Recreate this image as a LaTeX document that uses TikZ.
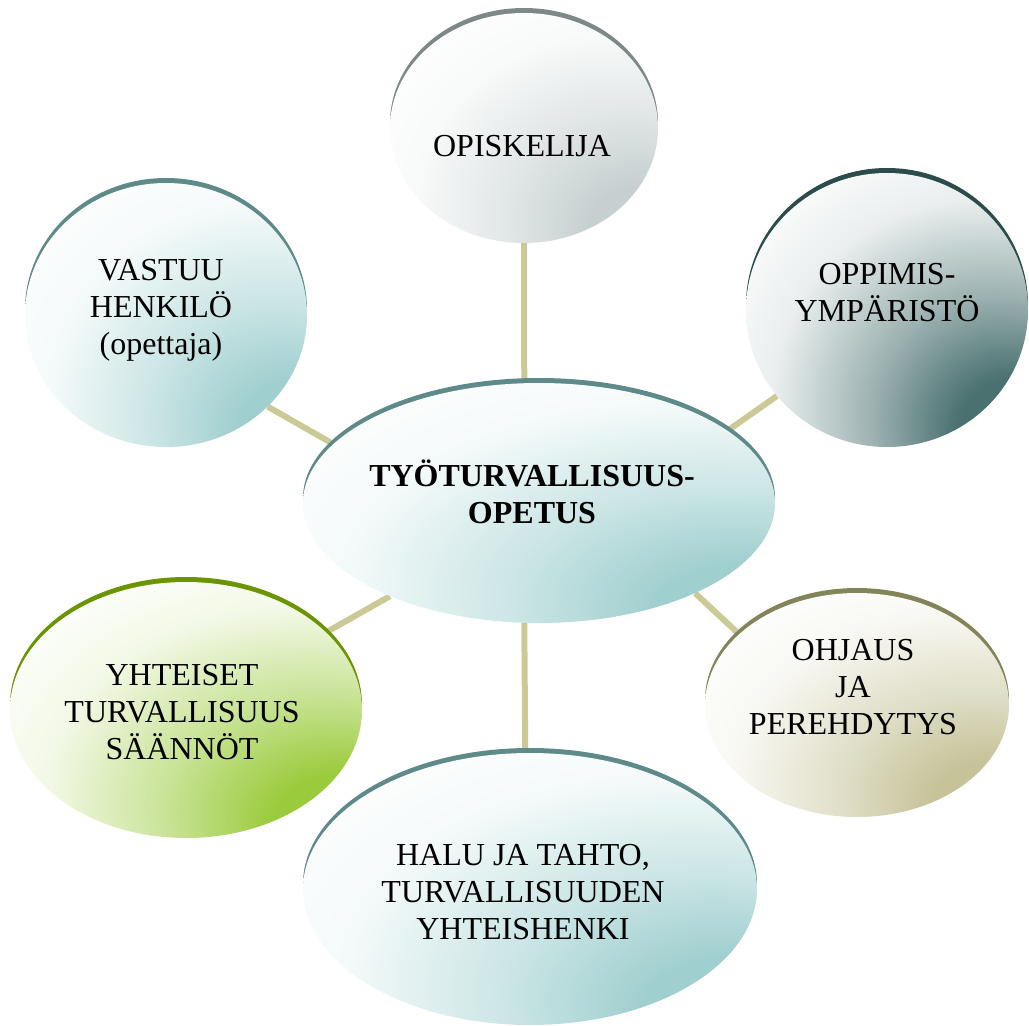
\documentclass[tikz,border=0pt]{standalone}
\usepackage{fontspec}
\setmainfont{Liberation Serif}
\usetikzlibrary{shapes.geometric,backgrounds}
\definecolor{spokecol}{HTML}{CBCA97}
\definecolor{rimgray}{HTML}{7F8888}
\definecolor{fillgray}{HTML}{C6D0D0}
\definecolor{rimteal}{HTML}{5E8A8A}
\definecolor{fillteal}{HTML}{A0CFCF}
\definecolor{rimdark}{HTML}{2C4C4C}
\definecolor{filldark}{HTML}{4A7070}
\definecolor{rimgreen}{HTML}{6A9400}
\definecolor{fillgreen}{HTML}{9ACB3C}
\definecolor{rimkhaki}{HTML}{84845A}
\definecolor{fillkhaki}{HTML}{C6C399}
\colorlet{bubcol}{fillteal}
\pgfdeclareradialshading[bubcol]{bubble}{\pgfpoint{25bp}{-25bp}}{color(0bp)=(bubcol); color(10bp)=(bubcol); color(22bp)=(bubcol!55!white); color(36bp)=(bubcol!12!white); color(48bp)=(white); color(100bp)=(white)}

\begin{document}
\begin{tikzpicture}[x=1pt,y=-1pt,
  bubble/.style n args={4}{ellipse, minimum width=#1, minimum height=#2, inner sep=0pt,
    preaction={fill=#3, transform canvas={yshift=5pt}},
    /utils/exec={\colorlet{bubcol}{#4}}, shading=bubble},
  btext/.style={align=center, font=\fontsize{32}{37}\selectfont},
  spoke/.style={draw=spokecol, line width=6pt}]
\useasboundingbox (0,0) rectangle (1029,1026);
% the circles
\node[bubble={268pt}{230pt}{rimgray}{fillgray}] (opiskelija) at (524,128) {};
\node[bubble={282pt}{264pt}{rimteal}{fillteal}] (vastuu) at (166,315) {};
\node[bubble={282pt}{274pt}{rimdark}{filldark}] (ymparisto) at (887,310) {};
\node[bubble={472pt}{240pt}{rimteal}{fillteal}] (opetus) at (539,503) {};
\node[bubble={352pt}{256pt}{rimgreen}{fillgreen}] (saannot) at (186,710) {};
\node[bubble={304pt}{224pt}{rimkhaki}{fillkhaki}] (ohjaus) at (857,705) {};
\node[bubble={454pt}{272pt}{rimteal}{fillteal}] (yhteishenki) at (530,889) {};
% the texts
\node[btext] (opiskelija-t) at (522,146) {OPISKELIJA};
\node[btext] (vastuu-t) at (161,310) {VASTUU\\HENKILÖ\\(opettaja)};
\node[btext] (ymparisto-t) at (887,293) {OPPIMIS-\\YMPÄRISTÖ};
\node[btext,font=\fontsize{32}{37}\selectfont\bfseries] (opetus-t) at (532,492) {TYÖTURVALLISUUS-\\OPETUS};
\node[btext] (saannot-t) at (182,712) {YHTEISET\\TURVALLISUUS\\SÄÄNNÖT};
\node[btext] (ohjaus-t) at (853,687) {OHJAUS\\JA\\PEREHDYTYS};
\node[btext] (yhteishenki-t) at (523,892) {HALU JA TAHTO,\\TURVALLISUUDEN\\YHTEISHENKI};
% spokes behind
\begin{scope}[on background layer]
\draw[spoke] (opiskelija.-90) -- (opetus.97);
\draw[spoke] (vastuu.-42) -- (opetus.164);
\draw[spoke] (ymparisto.218) -- (opetus.21);
\draw[spoke] (saannot.29) -- (opetus.212);
\draw[spoke] (ohjaus.149) -- (opetus.-30);
\draw[spoke] (yhteishenki.92) -- (opetus.-97);
\end{scope}
\end{tikzpicture}
\end{document}
